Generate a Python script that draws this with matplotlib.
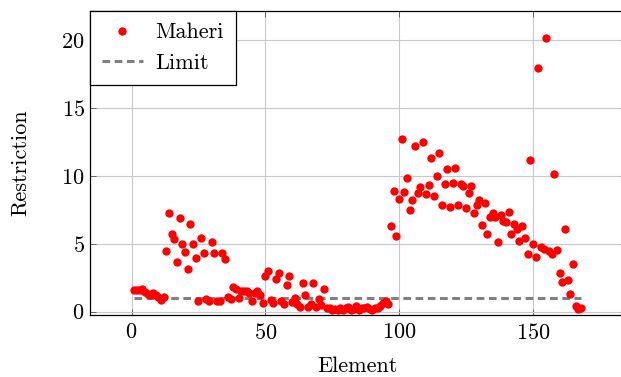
import numpy as np
import matplotlib
matplotlib.use("Agg")
import matplotlib.pyplot as plt

plt.rcParams["font.family"] = "serif"
plt.rcParams["font.serif"] = ["cmr10"]
plt.rcParams["axes.formatter.use_mathtext"] = True
plt.rcParams["mathtext.fontset"] = "cm"
plt.rcParams["font.size"] = 16
plt.rcParams["lines.scale_dashes"] = False

# данные
restriction = [
    1.58, 1.6, 1.62, 1.7, 1.45, 1.3, 1.25, 1.38, 1.2, 1.05, 0.85, 1.05,
    4.46, 7.28, 5.70, 5.34, 3.67, 6.87, 5.0, 4.41, 3.12, 6.45, 5.0, 3.97,
    0.8, 5.39, 4.34, 0.9, 0.75, 5.10, 4.34, 0.75, 0.8, 4.29, 3.85,
    1.05, 0.9, 1.8, 1.65, 1.0, 1.55, 1.5, 1.5, 1.4, 0.8, 1.4, 1.5, 1.2, 0.6, 2.6, 3.0,
    0.85, 0.65, 2.4, 2.85, 0.75, 0.55, 1.95, 2.6, 0.7, 1.0, 0.55, 0.35, 2.1, 1.2,
    0.35, 0.55, 2.1, 0.35, 0.9, 0.5, 1.7,
    0.25, 0.3, 0.1, 0.2, 0.15, 0.3, 0.1, 0.25, 0.35, 0.15, 0.2, 0.4, 0.1, 0.25,
    0.3, 0.35, 0.2, 0.15, 0.3, 0.25, 0.4, 0.6, 0.8, 0.55,
    6.33, 8.88, 5.59, 8.27, 12.7, 8.83, 9.86, 7.5, 8.2, 12.2, 8.76, 9.2, 12.5,
    8.64, 9.32, 11.3, 8.5, 10.0, 11.7, 7.86, 9.37, 10.48, 7.68, 9.5, 10.6, 7.85,
    9.37, 9.25, 7.61, 8.71, 9.25, 7.24, 7.85, 8.22,
    6.35, 8.0, 5.69, 7.0, 7.24, 6.94, 5.15, 7.11, 6.67, 6.62, 7.36, 5.71, 6.43,
    6.06, 5.2, 6.3, 5.4,
    4.22, 11.16, 4.98, 4.04, 17.95, 4.73, 4.59, 20.17, 4.46, 4.22, 10.13, 4.54,
    2.82, 2.2, 6.08, 2.33, 1.27, 3.48, 0.41, 0.19, 0.24,
]
element = np.arange(1, len(restriction) + 1)
limit = 1.0

fig = plt.figure(figsize=(6.21, 3.77), dpi=100)
ax = fig.add_axes([89.5 / 621, 1 - 314.5 / 377, (625.7 - 89.5) / 621, (314.5 - 10.7) / 377])

ax.plot(element, restriction, "o", color="#ff0000", markersize=6, markeredgewidth=0,
        label="Maheri", zorder=3)
ax.plot([element[0], element[-1]], [limit, limit], color="#808080", lw=2.2,
        dashes=(5.5, 3.3), label="Limit", zorder=2)

ax.set_xlim(-15.7, 184.7)
ax.set_ylim(-0.21, 22.16)
ax.set_xticks([0, 50, 100, 150])
ax.set_yticks([0, 5, 10, 15, 20])
ax.grid(True, color="#c8c8c8", lw=0.8)
ax.set_axisbelow(True)
ax.tick_params(direction="in", length=4, width=0.6, color="#555555",
               top=True, right=True, labelsize=16)
ax.tick_params(axis="x", pad=6)
for s in ax.spines.values():
    s.set_linewidth(0.9)

ax.set_xlabel("Element", labelpad=10)
ax.set_ylabel("Restriction", labelpad=22)

leg = ax.legend(loc="upper left", borderaxespad=0, fancybox=False, framealpha=1,
                edgecolor="black", handlelength=1.85, handletextpad=0.55,
                borderpad=0.55, markerscale=1.0)
leg.get_frame().set_linewidth(0.9)

fig.savefig("out.png", dpi=100)
